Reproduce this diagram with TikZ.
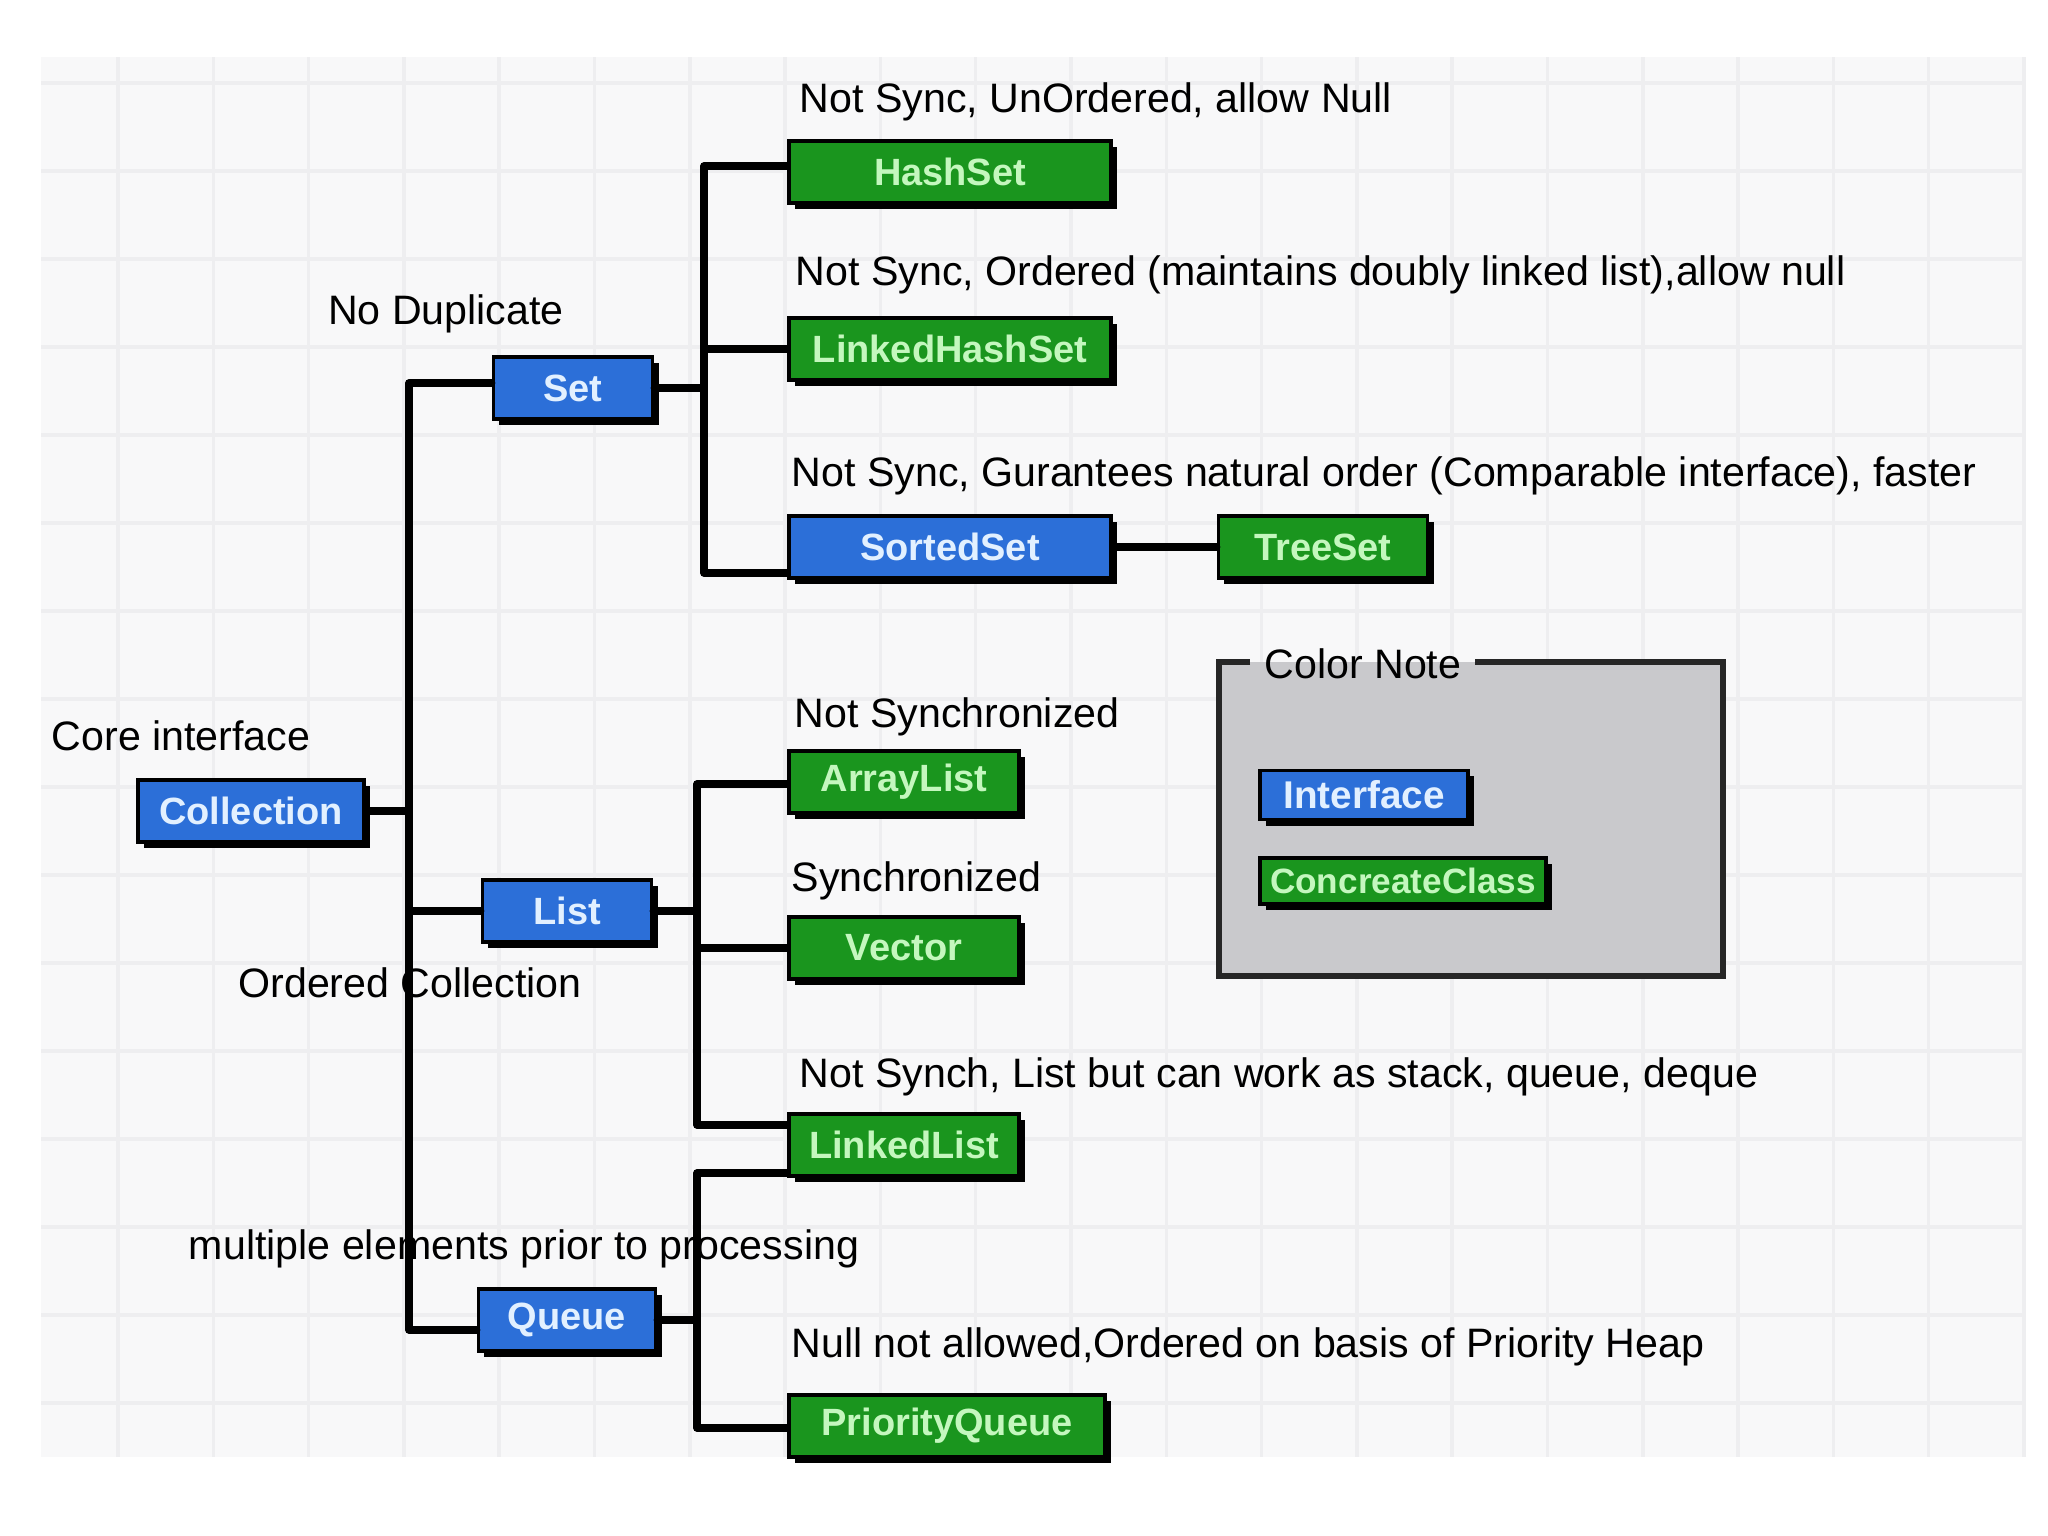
\documentclass[tikz,border=0pt]{standalone}
\usepackage{fontspec}
\setmainfont{Liberation Sans}
\usetikzlibrary{shadows}
\definecolor{ifaceblue}{HTML}{2C6FD8}
\definecolor{classgreen}{HTML}{1A951E}
\definecolor{ifacetext}{HTML}{E2F0FF}
\definecolor{classtext}{HTML}{C4F7BE}
\definecolor{gridbg}{HTML}{F8F8F9}
\definecolor{gridln}{HTML}{EEEEF0}
\definecolor{notegray}{HTML}{C9C9CC}
\def\lw{2.1pt}
\tikzset{
  box/.style={draw=black, line width=1pt, inner sep=0pt, minimum height=0.62cm,
    font=\fontsize{10.8}{13}\selectfont\bfseries,
    drop shadow={shadow xshift=1.7pt, shadow yshift=-1.7pt, fill=black, opacity=1}},
  iface/.style={box, fill=ifaceblue, text=ifacetext},
  cls/.style={box, fill=classgreen, text=classtext},
  note/.style={anchor=west, inner sep=0pt, font=\fontsize{11.7}{14}\selectfont},
  conn/.style={line width=\lw, line cap=round, line join=round},
}

\begin{document}
\begin{tikzpicture}[x=0.01cm, y=-0.01cm]
\useasboundingbox (0,0) rectangle (2048,1536);
% background grid
\fill[gridbg] (41,57) rectangle (2025,1457);
\foreach \i in {0,...,20}{
	\draw[gridln, line width=1pt] ({118+95.3*\i},57) -- ({118+95.3*\i},1457);
}
\foreach \j in {0,...,15}{
	\draw[gridln, line width=1pt] (41,{83+88*\j}) -- (2025,{83+88*\j});
}

% colour note
\fill[notegray] (1219,662) rectangle (1723,976);
\draw[line width=1.6pt, black!85] (1250,662) -- (1219,662) -- (1219,976) -- (1723,976) -- (1723,662) -- (1475,662);
\node[inner sep=0pt, font=\fontsize{11.7}{14}\selectfont] (cnote) at (1363,664) {Color Note};
\node[iface, minimum width=2.08cm, minimum height=0.49cm, font=\fontsize{11}{13}\selectfont\bfseries] (keyiface) at (1364,795) {Interface};
\node[cls, minimum width=2.86cm, minimum height=0.46cm, font=\fontsize{10}{12}\selectfont\bfseries] (keyclass) at (1403,881) {ConcreateClass};

% interfaces
\node[iface, minimum width=2.26cm] (coll) at (251,811) {Collection};
\node[iface, minimum width=1.59cm] (set) at (573,388) {Set};
\node[iface, minimum width=1.69cm] (list) at (567,911) {List};
\node[iface, minimum width=1.77cm] (queue) at (567,1320) {Queue};
\node[iface, minimum width=3.22cm] (sortedset) at (950,547) {SortedSet};

% classes
\node[cls, minimum width=3.22cm] (hashset) at (950,172) {HashSet};
\node[cls, minimum width=3.22cm] (lhset) at (950,349) {LinkedHashSet};
\node[cls, minimum width=2.09cm] (treeset) at (1323,547) {TreeSet};
\node[cls, minimum width=2.30cm] (arraylist) at (904,782) {ArrayList};
\node[cls, minimum width=2.30cm] (vector) at (904,948) {Vector};
\node[cls, minimum width=2.30cm] (linkedlist) at (904,1145) {LinkedList};
\node[cls, minimum width=3.16cm] (pqueue) at (947,1426) {PriorityQueue};

% notes
\node[note, anchor=center] (lcore) at (181,736) {Core interface};
\node[note, anchor=center] (ldup) at (446,314) {No Duplicate};
\node[note, anchor=center] (lorder) at (410,983) {Ordered Collection};
\node[note, anchor=center] (lqueue) at (524,1249) {multiple elements prior to processing};
\node[note] (lhash) at (799,102) {Not Sync, UnOrdered, allow Null};
\node[note] (llhash) at (795,275) {Not Sync, Ordered (maintains doubly linked list),allow null};
\node[note] (lsorted) at (791,476) {Not Sync, Gurantees natural order (Comparable interface), faster};
\node[note] (larray) at (794,717) {Not Synchronized};
\node[note] (lvector) at (791,881) {Synchronized};
\node[note] (llinked) at (799,1077) {Not Synch, List but can work as stack, queue, deque};
\node[note] (lpq) at (791,1347) {Null not allowed,Ordered on basis of Priority Heap};

% trunk and branches
\coordinate (t1) at (409,383);
\coordinate (t2) at (409,1330);
\coordinate (s1) at (704,166);
\coordinate (s2) at (704,573);
\coordinate (l1) at (697,784);
\coordinate (l2) at (697,1125);
\coordinate (q1) at (697,1173);
\coordinate (q2) at (697,1428);

\draw[conn] (set.west |- t1) -- (t1) -- (t2) -- (queue.west |- t2);
\draw[conn] (coll.east) -- (coll.east -| t1);
\draw[conn] (list.west) -- (list.west -| t1);

\draw[conn] (hashset.west |- s1) -- (s1) -- (s2) -- (sortedset.west |- s2);
\draw[conn] (lhset.west) -- (lhset.west -| s1);
\draw[conn] (set.east) -- (set.east -| s1);
\draw[conn] (sortedset.east) -- (treeset.west);

\draw[conn] (arraylist.west |- l1) -- (l1) -- (l2) -- (linkedlist.west |- l2);
\draw[conn] (vector.west) -- (vector.west -| l1);
\draw[conn] (list.east) -- (list.east -| l1);

\draw[conn] (linkedlist.west |- q1) -- (q1) -- (q2) -- (pqueue.west |- q2);
\draw[conn] (queue.east) -- (queue.east -| q1);
\end{tikzpicture}
\end{document}
